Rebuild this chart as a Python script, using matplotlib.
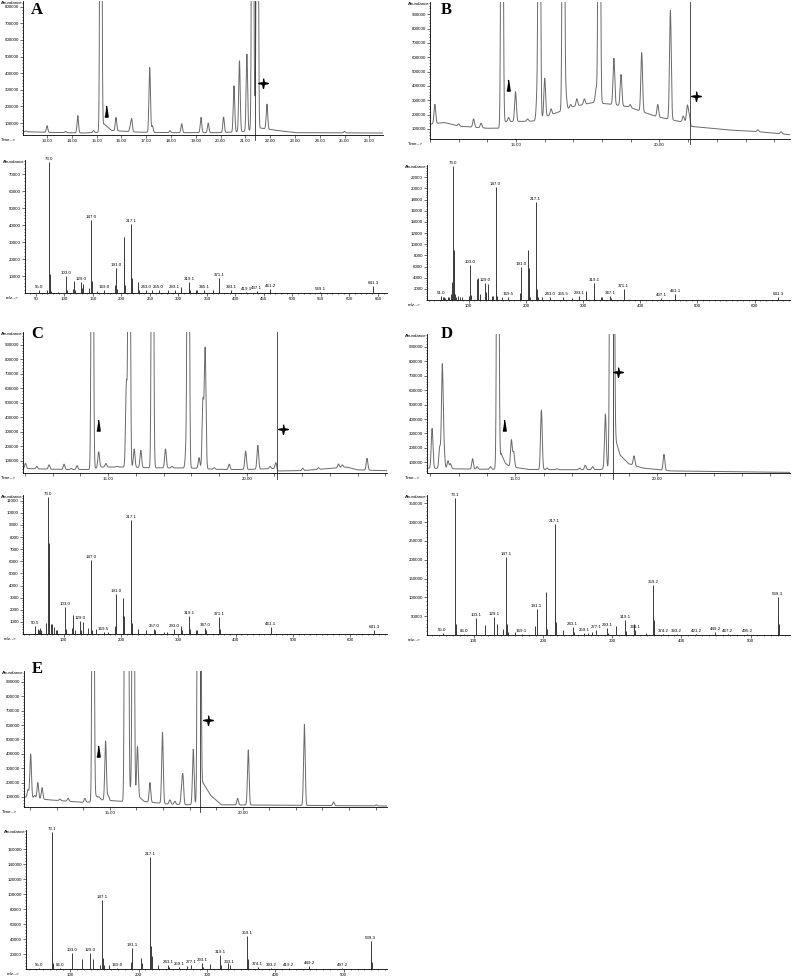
import numpy as np
import matplotlib.pyplot as plt
from matplotlib.ticker import FixedLocator, MultipleLocator, FuncFormatter

plt.rcParams['font.family'] = 'Liberation Sans'

# ---- chromatograms: baseline knots (min, abundance) and peak apices ----
A_base_t = [12.03, 13.0, 14.5, 15.1, 15.3, 15.6, 16.7, 18.0, 20.0, 21.0, 21.6, 22.3, 23.0, 26.55]
A_base_y = [48000, 44000, 40000, 45000, 95000, 55000, 45000, 42000, 42000, 50000, 70000, 55000, 42000, 40000]
A_pk_t = [12.15, 13.0, 13.75, 14.24, 14.87, 15.17, 15.78, 16.35, 16.41, 17.14, 17.25, 17.96,
          18.43, 19.21, 19.5, 20.12, 20.54, 20.76, 21.06, 21.29, 21.38, 21.48, 21.87, 22.9, 25.0]
A_pk_h = [52000, 84000, 50000, 144000, 55000, 5e6, 134000, 73000, 124000, 434000, 84000, 54000,
          96000, 134000, 100000, 136000, 324000, 474000, 514000, 5e6, 200000, 5e6, 214000, 45000, 50000]

B_base_t = [12.0, 12.5, 13.0, 14.0, 14.45, 14.6, 15.6, 16.3, 17.0, 17.7, 18.4, 18.9, 19.9, 20.7,
            21.06, 21.1, 22.4, 23.5, 24.55]
B_base_y = [133000, 145000, 120000, 105000, 105000, 150000, 155000, 205000, 255000, 285000, 270000,
            255000, 186000, 152000, 150000, 118000, 93000, 80000, 60000]
B_pk_t = [12.17, 13.0, 13.52, 13.78, 14.51, 14.74, 14.98, 15.4, 15.73, 15.81, 16.0, 16.22, 16.65,
          16.74, 16.9, 17.12, 17.38, 17.79, 17.9, 18.41, 18.66, 18.98, 19.38, 19.94, 20.38, 20.83,
          20.97, 21.03, 23.43, 24.24]
B_pk_h = [272000, 135000, 170000, 140000, 5e6, 180000, 360000, 170000, 320000, 5e6, 453000, 240000,
          5e6, 340000, 270000, 310000, 310000, 380000, 5e6, 593000, 480000, 270000, 632000, 270000,
          925000, 190000, 260000, 200000, 95000, 80000]

C_base_t = [11.93, 12.5, 13.5, 14.4, 14.7, 15.5, 16.5, 18.0, 19.0, 20.0, 21.07, 21.1, 22.0, 23.0,
            23.6, 24.0, 25.06]
C_base_y = [45000, 42000, 38000, 38000, 55000, 55000, 50000, 48000, 38000, 38000, 45000, 28000,
            30000, 45000, 55000, 35000, 30000]
C_pk_t = [12.02, 12.43, 12.87, 13.41, 13.67, 13.88, 14.43, 14.66, 14.92, 15.33, 15.66, 15.76, 15.94,
          16.18, 16.6, 17.07, 17.31, 17.81, 17.89, 18.28, 18.42, 18.5, 18.83, 19.04, 19.37, 19.96,
          20.4, 20.84, 21.05, 22.02, 22.59, 23.31, 23.45, 24.34]
C_pk_h = [80000, 60000, 70000, 75000, 45000, 65000, 5e6, 161000, 80000, 60000, 634000, 5e6, 180000,
          170000, 5e6, 180000, 60000, 170000, 5e6, 120000, 507000, 869000, 50000, 40000, 75000,
          165000, 205000, 60000, 85000, 46000, 50000, 76000, 70000, 115000]

D_base_t = [11.88, 12.8, 13.5, 14.3, 14.4, 14.5, 14.65, 14.8, 15.5, 17.0, 18.0, 18.3, 18.55, 18.7,
            19.0, 19.5, 20.5, 24.7]
D_base_y = [60000, 55000, 52000, 52000, 60000, 160000, 92000, 70000, 50000, 48000, 50000, 60000,
            250000, 150000, 90000, 60000, 40000, 30000]
D_pk_t = [12.06, 12.33, 12.42, 12.48, 12.62, 12.71, 13.49, 13.65, 14.12, 14.38, 14.86, 14.94, 15.92,
          16.12, 16.47, 17.27, 17.47, 17.73, 18.18, 18.37, 18.46, 18.88, 19.19, 19.82, 20.25]
D_pk_h = [335000, 205000, 765000, 180000, 110000, 90000, 125000, 70000, 70000, 5e6, 254000, 170000,
          462000, 60000, 55000, 60000, 80000, 70000, 435000, 5e6, 5e6, 110000, 145000, 50000, 155000]

E_base_t = [11.77, 12.7, 14.0, 14.3, 14.45, 14.7, 15.5, 15.78, 16.3, 17.1, 17.9, 18.35, 18.5, 18.8,
            19.2, 25.43]
E_base_y = [100000, 80000, 62000, 65000, 110000, 80000, 68000, 150000, 68000, 52000, 45000, 50000,
            200000, 110000, 45000, 37000]
E_pk_t = [11.92, 12.02, 12.17, 12.29, 12.45, 13.12, 13.43, 14.06, 14.37, 14.6, 14.84, 14.94, 15.59,
          15.67, 15.88, 16.04, 16.51, 16.98, 17.26, 17.45, 17.7, 17.75, 18.14, 18.33, 18.39, 19.81,
          20.21, 22.32, 23.42, 25.03]
E_pk_h = [150000, 399000, 110000, 200000, 165000, 85000, 90000, 90000, 5e6, 100000, 490000, 110000,
          5e6, 5e6, 5e6, 450000, 200000, 550000, 80000, 70000, 140000, 235000, 432000, 5e6, 5e6,
          90000, 427000, 605000, 65000, 45000]

# cursor line, star and arrowhead positions (min, abundance)
cursor_t = [21.39, 21.07, 21.08, 18.44, 18.39]
star_t = [21.71, 21.26, 21.30, 18.62, 18.68]
star_y = [343000, 328000, 316000, 726000, 636000]
tri_t = [15.37, 14.71, 14.64, 14.61, 14.56]
tri_y = [170000, 407000, 345000, 358000, 420000]

# ---- mass spectra (m/z, abundance) ----
A_mz = [55.0, 69, 73.0, 74, 75, 77, 89, 103.0, 104, 115, 117, 119, 129.0, 131, 133, 143, 147.0, 148,
        149, 157, 169.0, 189, 191.0, 192, 204, 205, 206, 217.1, 218, 219, 229, 231, 243.0, 253, 265.0,
        281, 293.1, 305, 319.1, 320, 331, 333, 345.1, 361, 371.1, 372, 393.1, 419.1, 437.1, 461.2,
        549.1, 641.3, 642]
A_int = [1500, 1500, 77500, 6500, 11000, 1200, 800, 10000, 1500, 2500, 7000, 1500, 6700, 3000, 5500,
         3000, 43000, 7000, 2000, 1000, 1500, 5000, 15000, 2500, 32800, 18000, 5000, 41000, 9000, 5000,
         6300, 2000, 1500, 1500, 1500, 1500, 2000, 3700, 6700, 1500, 2000, 2000, 1500, 1500, 8600, 1500,
         1500, 500, 1000, 2500, 500, 4300, 1500]
A_lab = [55.0, 73.0, 103.0, 129.0, 147.0, 169.0, 191.0, 217.1, 243.0, 265.0, 293.1, 319.1, 345.1,
         371.1, 393.1, 419.1, 437.1, 461.2, 549.1, 641.3]

B_mz = [51.0, 55, 57, 59, 63, 65, 69, 70, 73.0, 74, 75, 76, 77, 81, 85, 89, 101, 103.0, 104, 115, 117,
        119, 129.0, 131, 133, 141, 143, 147.0, 148, 149, 159, 169.5, 189, 191.0, 192, 204, 205, 206,
        207, 217.1, 218, 219, 221, 229, 243.0, 265.5, 281, 293.1, 305, 306, 319.1, 320, 331, 333,
        347.1, 349, 371.1, 437.1, 461.1, 641.3]
B_int = [800, 600, 500, 400, 600, 500, 1000, 3300, 24000, 9000, 7500, 1000, 600, 700, 600, 500, 800,
         6300, 900, 3800, 4000, 1000, 3000, 1500, 2800, 800, 800, 20200, 3300, 800, 500, 500, 1200,
         5900, 900, 9000, 5700, 2000, 600, 17500, 4700, 2000, 500, 600, 600, 500, 300, 800, 1600, 700,
         3000, 600, 500, 500, 800, 400, 2000, 300, 1000, 500]
B_lab = [51.0, 73.0, 103.0, 129.0, 147.0, 169.5, 191.0, 217.1, 243.0, 265.5, 293.1, 319.1, 347.1,
         371.1, 437.1, 461.1, 641.3]

C_mz = [50.5, 55, 57, 59, 61, 69, 73.0, 74, 75, 77, 80, 83, 86, 89, 103.0, 104, 115, 117, 119, 129.0,
        131, 133, 143, 147.0, 148, 149, 157, 169.5, 177, 189, 191.0, 192, 204, 205, 206, 217.1, 218,
        219, 229, 243, 257.0, 259, 275, 281, 293.0, 305, 306, 319.1, 320, 331, 333, 347.0, 349, 371.1,
        372, 461.1, 462, 641.3]
C_int = [700, 400, 300, 500, 300, 900, 11300, 7500, 5000, 800, 800, 600, 300, 300, 2200, 400, 500,
         1600, 300, 1100, 300, 1000, 500, 6100, 1000, 300, 400, 200, 200, 700, 3300, 500, 2950, 1500,
         700, 9400, 1800, 900, 400, 300, 400, 300, 200, 200, 400, 700, 300, 1500, 400, 300, 300, 500,
         300, 1400, 400, 600, 200, 300]
C_lab = [50.5, 73.0, 103.0, 129.0, 147.0, 169.5, 191.0, 217.1, 257.0, 293.0, 319.1, 347.0, 371.1,
         461.1, 641.3]

D_mz = [55.0, 73.1, 74, 75, 86.0, 103.1, 117, 129.1, 133, 143, 147.1, 148, 149, 159, 169.1, 189, 191.1,
        204, 205, 206, 217.1, 218, 219, 229, 243.1, 245, 259.1, 265, 271, 277.1, 293.1, 294, 305, 306,
        319.1, 320, 331, 333.1, 349, 359.2, 360, 361, 374.2, 393.2, 421.2, 449.2, 467.2, 495.2, 539.3,
        540, 541]
D_int = [5000, 363000, 30400, 10000, 3000, 45500, 27800, 48000, 30000, 15000, 206000, 30000, 8000,
         8000, 3000, 25000, 67800, 113000, 55000, 15000, 295000, 62000, 35000, 12000, 21600, 8000, 5000,
         5000, 8000, 12000, 18000, 5000, 24000, 8000, 41000, 10000, 30500, 12000, 5000, 134000, 40000,
         20000, 3000, 3000, 2000, 8000, 2000, 2000, 101000, 50000, 30000]
D_lab = [55.0, 73.1, 86.0, 103.1, 129.1, 147.1, 169.1, 191.1, 217.1, 243.1, 259.1, 277.1, 293.1,
         319.1, 333.1, 359.2, 374.2, 393.2, 421.2, 449.2, 467.2, 495.2, 539.3]

E_mz = [55.0, 73.1, 74, 75, 86.0, 103.0, 117, 129.0, 133, 143, 147.1, 148, 149, 157, 169.0, 189,
        191.1, 204, 205, 217.1, 218, 219, 229, 243.1, 245, 259.1, 271, 277.1, 293.1, 294, 305, 319.1,
        320, 331, 333.1, 359.1, 360, 374.1, 393.2, 419.2, 449.2, 497.2, 539.3, 540, 541]
E_int = [2000, 183000, 20000, 8000, 2000, 21300, 13300, 21000, 14000, 6000, 92900, 15000, 5000, 6000,
         2000, 10000, 28000, 15000, 8000, 150000, 31000, 18000, 5000, 6000, 3000, 3000, 4000, 6000,
         8000, 3000, 7000, 19100, 5000, 8000, 6000, 44400, 14000, 3000, 2000, 1000, 4000, 1000, 36900,
         18000, 10000]
E_lab = [55.0, 73.1, 86.0, 103.0, 129.0, 147.1, 169.0, 191.1, 217.1, 243.1, 259.1, 277.1, 293.1,
         319.1, 333.1, 359.1, 374.1, 393.2, 419.2, 449.2, 497.2, 539.3]

W, H = 792, 977
fig = plt.figure(figsize=(W / 100, H / 100), dpi=100)
FS = 3.2
STAR = [(0, 1), (0.17, 0.17), (1, 0), (0.17, -0.17), (0, -1), (-0.17, -0.17), (-1, 0), (-0.17, 0.17)]
TRI = [(0, 1), (0.3, -1), (-0.3, -1)]


def box(l, t, r, b):
    return [l / W, 1 - b / H, (r - l) / W, (b - t) / H]


def style(ax, xname):
    for s in ['top', 'right']:
        ax.spines[s].set_visible(False)
    for s in ['left', 'bottom']:
        ax.spines[s].set_linewidth(0.6)
    ax.tick_params(which='both', labelsize=FS, width=0.4, pad=1)
    ax.tick_params(which='major', length=2)
    ax.tick_params(which='minor', length=1)
    ax.yaxis.set_major_formatter(FuncFormatter(lambda v, p: f"{int(round(v))}"))
    ax.text(0, 1, "Abundance", transform=ax.transAxes, ha='right', va='top', fontsize=FS)
    ax.annotate(xname, xy=(0, 0), xycoords='axes fraction', xytext=(-7, -3),
                textcoords='offset pixels', ha='right', va='top', fontsize=FS)


def chrom(rect, xlim, ylim, base_t, base_y, pk_t, pk_h, i, all_labels=False):
    ax = fig.add_axes(box(*rect))
    t = np.linspace(xlim[0], xlim[1], 5000)
    y = np.interp(t, base_t, base_y)
    for pt, ph in zip(pk_t, pk_h):
        amp = max(ph - np.interp(pt, base_t, base_y), 0)
        y = y + amp * np.exp(-0.5 * ((t - pt) / 0.03) ** 2)
    ax.plot(t, y, color='#6a6a6a', lw=0.7)
    ax.axvline(cursor_t[i], ymin=-0.04, ymax=1, color='#333333', lw=0.6, clip_on=False)
    ax.plot(star_t[i], star_y[i], marker=STAR, ms=7, color='k', ls='none')
    ax.plot(tri_t[i], tri_y[i], marker=TRI, ms=8, color='k', ls='none')
    ax.set_xlim(xlim)
    ax.set_ylim(ylim)
    ax.yaxis.set_major_locator(MultipleLocator(100000))
    ax.yaxis.set_minor_locator(MultipleLocator(20000))
    ax.xaxis.set_major_locator(MultipleLocator(1))
    if all_labels:
        ax.xaxis.set_major_formatter(FuncFormatter(lambda v, p: f"{v:.2f}"))
    else:
        ax.xaxis.set_major_formatter(
            FuncFormatter(lambda v, p: f"{v:.2f}" if round(v) in (15, 20) else ""))
    style(ax, "Time-->")
    return ax


def spec(rect, xlim, ytop, ystep, ylast, xstep, mz, inten, labels):
    ax = fig.add_axes(box(*rect))
    ax.vlines(mz, 0, inten, color='#3a3a3a', lw=0.7)
    for lab in labels:
        k = mz.index(lab)
        ax.annotate(f"{lab:.1f}", (lab, inten[k]), xytext=(0, 1), textcoords='offset pixels',
                    ha='center', va='bottom', fontsize=FS)
    ax.set_xlim(xlim)
    ax.set_ylim(0, ytop)
    ax.yaxis.set_major_locator(FixedLocator(np.arange(ystep, ylast + 1, ystep)))
    ax.yaxis.set_minor_locator(MultipleLocator(ystep / 5))
    ax.xaxis.set_major_locator(MultipleLocator(xstep))
    ax.xaxis.set_minor_locator(MultipleLocator(10))
    ax.xaxis.set_major_formatter(FuncFormatter(lambda v, p: f"{int(v)}" if v > 0 else ""))
    style(ax, "m/z-->")
    return ax


chrom((23, 1, 383, 135), (12.03, 26.55), (28000, 834000), A_base_t, A_base_y, A_pk_t, A_pk_h, 0, True)
chrom((430, 2, 790, 139), (12.0, 24.55), (30000, 985000), B_base_t, B_base_y, B_pk_t, B_pk_h, 1)
chrom((23, 332, 387, 473), (11.93, 25.06), (13800, 988000), C_base_t, C_base_y, C_pk_t, C_pk_h, 2)
chrom((427, 334, 790, 473), (11.88, 24.7), (25700, 990000), D_base_t, D_base_y, D_pk_t, D_pk_h, 3)
chrom((24, 671, 387, 807), (11.77, 25.43), (30000, 976000), E_base_t, E_base_y, E_pk_t, E_pk_h, 4)

spec((25, 160, 387, 293), (30.7, 666), 78500, 10000, 70000, 50, A_mz, A_int, A_lab)
spec((427, 165, 790, 300), (27, 662), 24200, 2000, 22000, 100, B_mz, B_int, B_lab)
spec((23, 495, 387, 634), (29, 664), 11470, 1000, 11000, 100, C_mz, C_int, C_lab)
spec((427, 495, 790, 635), (32.5, 557), 372000, 50000, 350000, 100, D_mz, D_int, D_lab)
spec((26, 830, 387, 969), (35.6, 563), 185800, 20000, 160000, 100, E_mz, E_int, E_lab)

# panel letters
for letter, px, py in [("A", 37, 10), ("B", 446, 10), ("C", 37, 334), ("D", 447, 334), ("E", 37, 669)]:
    fig.text(px / W, 1 - py / H, letter, ha='center', va='center', fontsize=12,
             fontweight='bold', family='Liberation Serif')

fig.savefig("out.png", dpi=100)
